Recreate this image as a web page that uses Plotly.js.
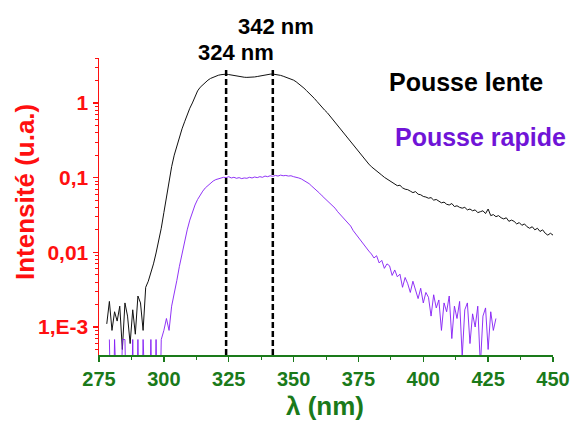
<!DOCTYPE html>
<html>
<head>
<meta charset="utf-8">
<script src="https://cdn.plot.ly/plotly-3.0.1.min.js"></script>
<style>html,body{margin:0;padding:0;background:#fff;}#chart{width:571px;height:422px;}</style>
</head>
<body>
<div id="chart"></div>
<script>
// ---- data ----
const lenteLambda = [278,279,280,281,282,283,284,285,286,287,288,289,290,291,292,293,294,295,296,297,298,299,
300,301,302,303,304,305,306,307,308,309,310,311,312,313,314,315,316,317,318,319,320,321,322,323,324,325,326,327,328,329,
330,331,332,333,334,335,336,337,338,339,340,341,342,343,344,345,346,347,348,349,350,351,352,353,354,355,356,357,358,359,
360,361,362,363,364,365,366,367,368,369,370,371,372,373,374,375,376,377,378,379,380,381,382,383,384,385,386,387,388,389,
390,391,392,393,394,395,396,397,398,399,400,401,402,403,404,405,406,407,408,409,410,411,412,413,414,415,416,417,418,419,
420,421,422,423,424,425,426,427,428,429,430,431,432,433,434,435,436,437,438,439,440,441,442,443,444,445,446,447,448,449,450];
const lenteIntensity = [0.0011,0.0022,0.0009,0.0016,0.0012,0.0019,0.0005,0.0021,0.0014,0.0006,0.0017,0.0008,0.0026,0.0021,0.0009,0.0034,0.0041,0.0052,0.0070,0.0098,0.0140,0.021,
0.034,0.055,0.09,0.14,0.20,0.27,0.36,0.45,0.56,0.70,0.85,1.00,1.22,1.45,1.62,1.76,1.90,2.02,2.13,2.22,2.30,2.35,2.39,2.42,2.43,2.40,2.36,2.32,2.28,2.25,
2.22,2.21,2.20,2.20,2.21,2.23,2.26,2.30,2.34,2.37,2.41,2.43,2.44,2.42,2.38,2.34,2.28,2.22,2.16,2.09,2.02,1.92,1.81,1.70,1.58,1.46,1.36,1.26,1.15,1.05,
0.95,0.88,0.80,0.74,0.67,0.60,0.54,0.49,0.44,0.40,0.36,0.33,0.30,0.27,0.245,0.225,0.205,0.185,0.168,0.152,0.140,0.132,0.122,0.116,0.108,0.101,0.096,0.090,0.086,0.082,
0.078,0.079,0.073,0.070,0.069,0.066,0.063,0.065,0.060,0.059,0.056,
0.055,0.053,0.054,0.050,0.051,0.048,0.046,0.047,0.044,0.043,
0.045,0.041,0.042,0.040,0.039,0.040,0.037,0.038,0.036,0.037,
0.034,0.035,0.036,0.033,0.038,0.031,0.032,0.030,0.031,0.029,
0.028,0.029,0.026,0.027,0.026,0.024,0.025,0.023,0.024,0.022,
0.021,0.022,0.020,0.021,0.019,0.020,0.018,0.017,0.018,0.017];

const rapideLambda = [279,280,281,282,283,284,285,286,287,288,289,290,291,292,293,294,295,296,297,298,299,
300,301,302,303,304,305,306,307,308,309,310,311,312,313,314,315,316,317,318,319,320,321,322,323,324,325,326,327,328,329,
330,331,332,333,334,335,336,337,338,339,340,341,342,343,344,345,346,347,348,349,350,351,352,353,354,355,356,357,358,359,
360,361,362,363,364,365,366,367,368,369,370,371,372,373,374,375,376,377,378,379,380,381,382,383,384,385,386,387,388,389,
390,391,392,393,394,395,396,397,398,399,400,401,402,403,404,405,406,407,408,409,410,411,412,413,414,415,416,417,418,419,
420,421,422,423,424,425,426,427,428];
const rapideIntensity = [0.00068,0.00001,0.00068,0.00001,0.00001,0.00068,0.00068,0.00001,0.00001,0.00068,0.00001,0.00068,0.00001,0.00068,0.00001,0.00001,0.00068,0.00001,0.00068,0.00001,0.00068,
0.0009,0.0013,0.0009,0.0019,0.0030,0.0042,0.0065,0.0098,0.0140,0.0200,0.0270,0.0350,0.0430,0.0510,0.0590,0.0660,0.0730,0.0790,0.0850,0.0900,0.0940,0.0970,0.0990,0.1010,0.1000,0.1030,0.0990,0.1010,0.0980,0.1000,
0.0970,0.0990,0.0980,0.1010,0.0990,0.1020,0.1000,0.1030,0.1010,0.1050,0.1030,0.1060,0.1040,0.1070,0.1050,0.1080,0.1060,0.1070,0.1050,0.1060,0.1030,0.1020,0.0990,0.0960,0.0920,0.0880,0.0830,0.0770,0.0720,0.0670,
0.0620,0.0570,0.0530,0.0500,0.0460,0.0420,0.0390,0.0350,0.0320,0.0290,0.0270,0.0240,0.0225,0.0195,0.0175,0.0155,0.0140,0.0128,0.0112,0.0104,
0.0095,0.0084,0.0090,0.0072,0.0078,0.0061,0.0070,0.0066,0.0049,0.0058,
0.0047,0.0051,0.0034,0.0046,0.0038,0.0029,0.0041,0.0030,0.0024,0.0033,
0.0021,0.0029,0.0025,0.0014,0.0027,0.0018,0.0023,0.0009,0.0021,0.0016,
0.0026,0.0007,0.0019,0.0013,0.0022,0.0004,0.0017,0.0021,0.0006,0.0015,
0.0010,0.0019,0.0003,0.0014,0.0018,0.0005,0.0016,0.0009,0.0013];

const peakLambdas = [324, 342];
const peakLabels = ['324 nm', '342 nm'];
const seriesNames = ['Pousse lente', 'Pousse rapide'];
const yTickVals = [0.001, 0.01, 0.1, 1];
const yTickText = ['1,E-3', '0,01', '0,1', '1'];

// ---- styling ----
const FONT = 'Liberation Sans, Arial, sans-serif';
const RED = '#ff1010';
const GREEN = '#1a7a1a';
const PURPLE_LINE = 'rgb(132,30,245)';
const PURPLE_TEXT = 'rgb(112,20,215)';

const L = 99, R = 553, T = 58, B = 355;
const px = x => (x - L) / (R - L);
const py = y => (B - y) / (B - T);

const minorVals = [];
for (let e = -4; e <= 0; e++) for (let d = 2; d <= 9; d++) minorVals.push(d * Math.pow(10, e));

const traces = [
  {x: lenteLambda, y: lenteIntensity, name: seriesNames[0], type: 'scatter', mode: 'lines',
   line: {color: '#111', width: 1}},
  {x: rapideLambda, y: rapideIntensity, name: seriesNames[1], type: 'scatter', mode: 'lines',
   line: {color: PURPLE_LINE, width: 1}, opacity: 0.9}
];

const shapes = peakLambdas.map(v => ({
  type: 'line', xref: 'x', yref: 'paper', x0: v, x1: v, y0: 0, y1: 0.97,
  line: {color: '#000', width: 2.5, dash: '6px,3px'}
}));

const annotations = [
  {text: peakLabels[1], x: px(276), y: py(26)},
  {text: peakLabels[0], x: px(236), y: py(53)},
].map(a => Object.assign({xref: 'paper', yref: 'paper', showarrow: false, xanchor: 'center', yanchor: 'middle',
  font: {family: FONT, size: 22, color: '#000', weight: 'bold'}}, a));

annotations.push(
  {text: seriesNames[0], x: px(466), y: py(82), xref: 'paper', yref: 'paper', showarrow: false,
   xanchor: 'center', yanchor: 'middle', font: {family: FONT, size: 25, color: '#000', weight: 'bold'}},
  {text: seriesNames[1], x: px(480), y: py(137), xref: 'paper', yref: 'paper', showarrow: false,
   xanchor: 'center', yanchor: 'middle', font: {family: FONT, size: 25, color: PURPLE_TEXT, weight: 'bold'}},
  {text: 'Intensité (u.a.)', x: px(25), y: py(192), xref: 'paper', yref: 'paper', showarrow: false,
   textangle: -90, xanchor: 'center', yanchor: 'middle', font: {family: FONT, size: 26, color: RED, weight: 'bold'}},
  {text: 'λ (nm)', x: px(325), y: py(406), xref: 'paper', yref: 'paper', showarrow: false,
   xanchor: 'center', yanchor: 'middle', font: {family: FONT, size: 26, color: GREEN, weight: 'bold'}}
);

const layout = {
  width: 571, height: 422,
  margin: {l: L, r: 571 - R, t: T, b: 422 - B, pad: 0},
  paper_bgcolor: '#fff', plot_bgcolor: '#fff',
  showlegend: false,
  xaxis: {
    range: [275, 450], tickmode: 'linear', tick0: 275, dtick: 25,
    ticks: 'outside', ticklen: 5, tickwidth: 1.5, tickcolor: GREEN,
    showline: true, linecolor: GREEN, linewidth: 1.5, showgrid: false, zeroline: false,
    minor: {tickmode: 'linear', tick0: 275, dtick: 12.5, ticks: 'outside', ticklen: 3, tickwidth: 1, tickcolor: GREEN, showgrid: false},
    tickfont: {family: FONT, size: 20, color: GREEN, weight: 'bold'}
  },
  yaxis: {
    type: 'log', range: [-3.375, 0.602],
    tickmode: 'array', tickvals: yTickVals, ticktext: yTickText,
    ticks: 'outside', ticklen: 5, tickwidth: 1.5, tickcolor: RED,
    showline: true, linecolor: RED, linewidth: 1.5, showgrid: false, zeroline: false,
    minor: {tickmode: 'array', tickvals: minorVals, ticks: 'outside', ticklen: 3, tickwidth: 1, tickcolor: RED, showgrid: false},
    tickfont: {family: FONT, size: 21, color: RED, weight: 'bold'}
  },
  shapes: shapes,
  annotations: annotations
};

Plotly.newPlot('chart', traces, layout, {displayModeBar: false, staticPlot: true});
</script>
</body>
</html>
